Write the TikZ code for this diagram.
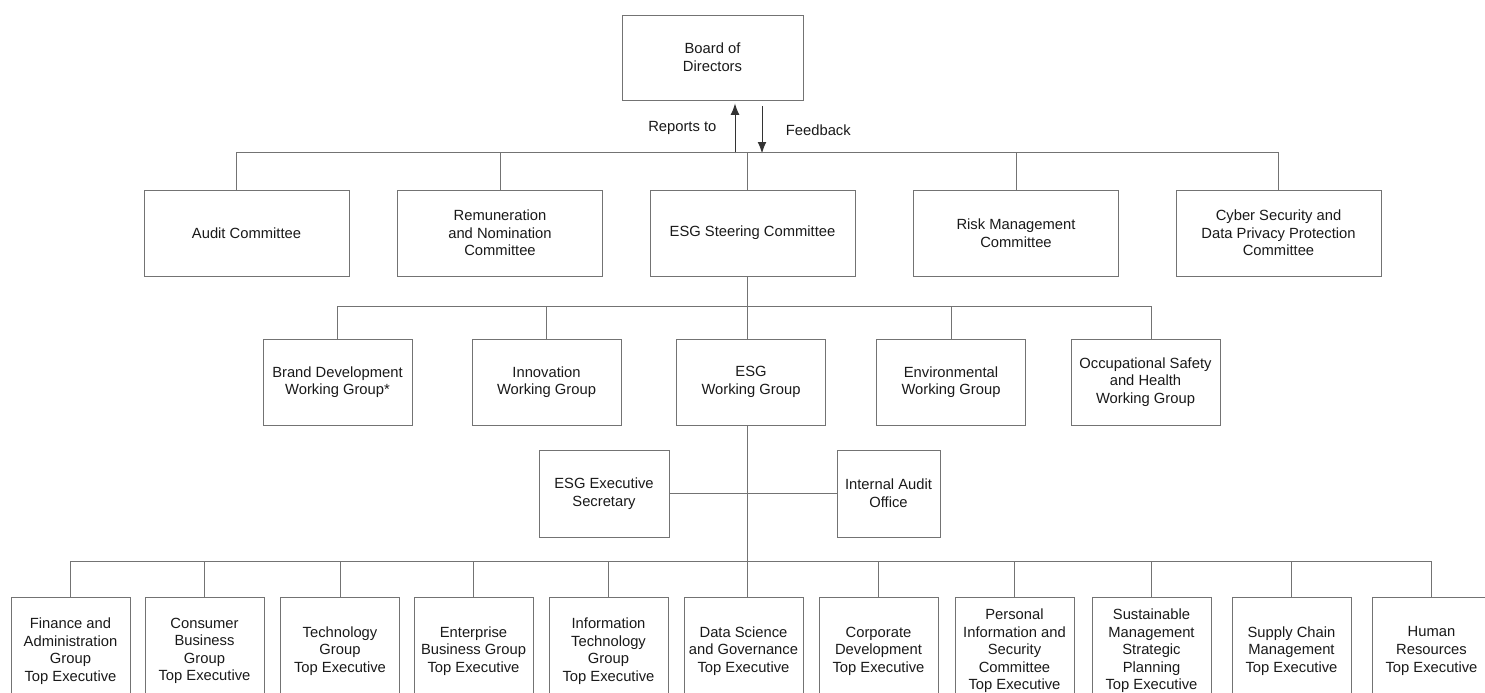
\documentclass[tikz,border=0pt]{standalone}
\usepackage{fontspec}
\setmainfont{Liberation Sans}
\usepackage{tikz}
\usetikzlibrary{arrows.meta,positioning,calc}

\begin{document}
\begin{tikzpicture}[x=0.02cm, y=-0.02cm,
    txt/.style={text=black!90, font=\fontsize{8.4}{10}\selectfont},
    box/.style={txt, draw=black!55, line width=0.5pt, align=center, inner sep=2pt},
    cmte/.style={box, minimum width=4.1cm, minimum height=1.72cm},
    wgrp/.style={box, minimum width=2.98cm, minimum height=1.72cm},
    exec/.style={box, minimum width=2.38cm, minimum height=2.16cm},
    link/.style={draw=black!55, line width=0.5pt},
    flow/.style={draw=black!80, line width=0.55pt, -{Latex[length=6.5pt,width=5pt]}}]
    \useasboundingbox (0,0) rectangle (1485,693);

    \node[box, minimum width=3.62cm, minimum height=1.7cm] (board) at (712.5,57.5) {Board of\\Directors};

    % committees
    \node[cmte] (audit) at (246.5,233) {Audit Committee};
    \node[cmte] (remun) at (500,233) {Remuneration\\and Nomination\\Committee};
    \node[cmte] (steer) at (752.5,233) {ESG Steering Committee};
    \node[cmte] (risk) at (1016,233) {Risk Management\\Committee};
    \node[cmte] (cyber) at (1278.5,233) {Cyber Security and\\Data Privacy Protection\\Committee};

    % working groups
    \node[wgrp] (brand) at (337.5,382) {Brand Development\\Working Group*};
    \node[wgrp] (innov) at (546.5,382) {Innovation\\Working Group};
    \node[wgrp] (esgwg) at (751,382) {ESG\\Working Group};
    \node[wgrp] (envir) at (951,382) {Environmental\\Working Group};
    \node[wgrp] (occup) at (1145.5,382) {Occupational Safety\\and Health\\Working Group};

    \node[box, minimum width=2.6cm, minimum height=1.74cm] (secr) at (604,493.5) {ESG Executive\\Secretary};
    \node[box, minimum width=2.06cm, minimum height=1.74cm] (aoff) at (888.5,493.5) {Internal Audit\\Office};

    % top executives
    \node[exec] (fin) at (70.5,651) {Finance and\\Administration\\Group\\Top Executive};
    \node[exec] (cons) at (204.5,651) {Consumer\\Business\\Group\\Top Executive};
    \node[exec] (tech) at (340,651) {Technology\\Group\\Top Executive};
    \node[exec] (ent) at (473.5,651) {Enterprise\\Business Group\\Top Executive};
    \node[exec] (it) at (608.5,651) {Information\\Technology\\Group\\Top Executive};
    \node[exec] (data) at (743.5,651) {Data Science\\and Governance\\Top Executive};
    \node[exec] (corp) at (878.5,651) {Corporate\\Development\\Top Executive};
    \node[exec] (pers) at (1014.5,651) {Personal\\Information and\\Security\\Committee\\Top Executive};
    \node[exec] (sust) at (1151.5,651) {Sustainable\\Management\\Strategic\\Planning\\Top Executive};
    \node[exec] (supp) at (1291.5,651) {Supply Chain\\Management\\Top Executive};
    \node[exec] (hr) at (1431.5,651) {Human\\Resources\\Top Executive};

    \coordinate (bus1) at (747,153);
    \coordinate (bus2) at (747,307);
    \coordinate (bus3) at (747,562);

    % board links
    \draw[flow] ($(board.south)+(22.5,53)$) -- node[txt, left=7pt] {Reports to} ($(board.south)+(22.5,3)$);
    \draw[flow] ($(board.south)+(49.5,6)$) -- node[txt, right=10pt] {Feedback} ($(board.south)+(49.5,53)$);

    \draw[link] ($(audit.north)+(-10,0)$) -- ++(0,-37) -| (cyber.north);
    \draw[link] (remun.north) -- (remun.north |- bus1);
    \draw[link] (risk.north) -- (risk.north |- bus1);
    \draw[link] (bus1) -- (bus1 |- steer.north);

    \draw[link] (brand.north) -- ++(0,-32) -| ($(occup.north)+(5.5,0)$);
    \draw[link] (innov.north) -- (innov.north |- bus2);
    \draw[link] (envir.north) -- (envir.north |- bus2);
    \draw[link] (bus1 |- steer.south) -- (bus1 |- esgwg.north);

    \draw[link] (bus1 |- esgwg.south) -- (bus1 |- data.north);
    \draw[link] (secr.east) -- (aoff.west);

    \draw[link] (fin.north) -- ++(0,-35) -| (hr.north);
    \foreach \n in {cons,tech,ent,it,corp,pers,sust,supp}
        \draw[link] (\n.north) -- (\n.north |- bus3);
\end{tikzpicture}
\end{document}
